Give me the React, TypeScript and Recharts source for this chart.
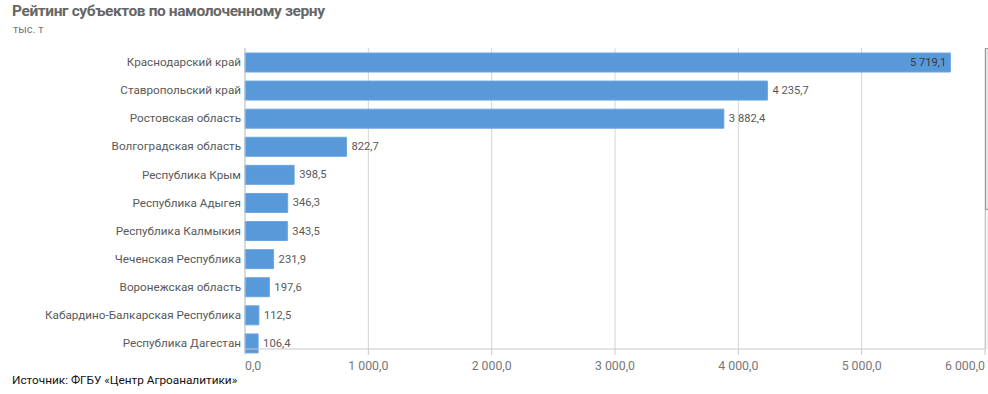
import React from "react";
import {
  BarChart,
  Bar,
  XAxis,
  YAxis,
  CartesianGrid,
  LabelList,
} from "recharts";

const regions = [
  "Краснодарский край",
  "Ставропольский край",
  "Ростовская область",
  "Волгоградская область",
  "Республика Крым",
  "Республика Адыгея",
  "Республика Калмыкия",
  "Чеченская Республика",
  "Воронежская область",
  "Кабардино-Балкарская Республика",
  "Республика Дагестан",
];

const grain = [5719.1, 4235.7, 3882.4, 822.7, 398.5, 346.3, 343.5, 231.9, 197.6, 112.5, 106.4];

const xTicks = [0, 1000, 2000, 3000, 4000, 5000, 6000];

const data = regions.map((name, i) => ({ name, value: grain[i] }));

const SANS = "Roboto, 'Noto Sans', sans-serif";

// "1 000,0" — пробел между разрядами, запятая в дробной части
function fmt(v: number) {
  const [int, dec] = v.toFixed(1).split(".");
  return int.replace(/\B(?=(\d{3})+(?!\d))/g, " ") + "," + dec;
}

function XTick(props: any) {
  const { x, y, payload, index } = props;
  const last = xTicks.length - 1;
  const anchor = index === 0 ? "start" : index === last ? "end" : "middle";
  return (
    <text
      x={x}
      y={y}
      dy={13}
      textAnchor={anchor}
      fontFamily={SANS}
      fontSize={12.3}
      fill="#777"
    >
      {fmt(payload.value)}
    </text>
  );
}

function ValueLabel(props: any) {
  const { x, y, width, height, value } = props;
  const inside = value > 5000;
  return (
    <text
      x={inside ? x + width - 4 : x + width + 5}
      y={y + height / 2}
      dominantBaseline="central"
      textAnchor={inside ? "end" : "start"}
      fontFamily={SANS}
      fontSize={11.2}
      fill={inside ? "#3a3a3a" : "#595959"}
    >
      {fmt(value)}
    </text>
  );
}

export default function App() {
  return (
    <div
      style={{
        position: "absolute",
        left: 0,
        top: 0,
        width: 988,
        height: 394,
        background: "#fff",
        overflow: "hidden",
        fontFamily: SANS,
      }}
    >
      <div
        style={{
          position: "absolute",
          left: 12,
          top: 2,
          fontSize: 15.5,
          letterSpacing: -0.4,
          fontWeight: 700,
          color: "#666",
          whiteSpace: "nowrap",
        }}
      >
        Рейтинг субъектов по намолоченному зерну
      </div>
      <div
        style={{
          position: "absolute",
          left: 13,
          top: 23,
          fontSize: 11,
          color: "#777",
        }}
      >
        тыс. т
      </div>

      <div style={{ position: "absolute", left: 0, top: 0 }}>
        <BarChart
          layout="vertical"
          width={988}
          height={394}
          data={data}
          margin={{ top: 48, right: 3, bottom: 15, left: 5 }}
          barSize={19}
        >
          <CartesianGrid horizontal={false} stroke="#d4d4d4" />
          <XAxis
            type="number"
            domain={[0, 6000]}
            ticks={xTicks}
            interval={0}
            height={30}
            stroke="#c8c8c8"
            tickSize={6}
            tickMargin={2}
            tick={<XTick />}
          />
          <YAxis
            type="category"
            dataKey="name"
            width={240}
            padding={{ top: 0, bottom: -8 }}
            allowDataOverflow
            axisLine={{ stroke: "#c8c8c8" }}
            tickLine={false}
            tickSize={0}
            tickMargin={4}
            interval={0}
            tick={{ fill: "#595959", fontSize: 11.7, fontFamily: SANS }}
          />
          <Bar
            dataKey="value"
            fill="#5899da"
            stroke="#6aa5e0"
            strokeWidth={1}
            isAnimationActive={false}
          >
            <LabelList dataKey="value" content={<ValueLabel />} />
          </Bar>
        </BarChart>
      </div>

      {/* полоса прокрутки справа */}
      <div
        style={{
          position: "absolute",
          left: 985,
          top: 48,
          width: 10,
          height: 301,
          background: "#f4f4f4",
          borderLeft: "1px solid #c8c8c8",
        }}
      />
      <div
        style={{
          position: "absolute",
          left: 985,
          top: 48,
          width: 10,
          height: 162,
          background: "#e6e6e6",
          border: "1px solid #999",
          boxSizing: "border-box",
        }}
      />

      <div
        style={{
          position: "absolute",
          left: 12,
          top: 373,
          fontSize: 11.8,
          color: "#111",
          whiteSpace: "nowrap",
        }}
      >
        Источник: ФГБУ «Центр Агроаналитики»
      </div>
    </div>
  );
}
